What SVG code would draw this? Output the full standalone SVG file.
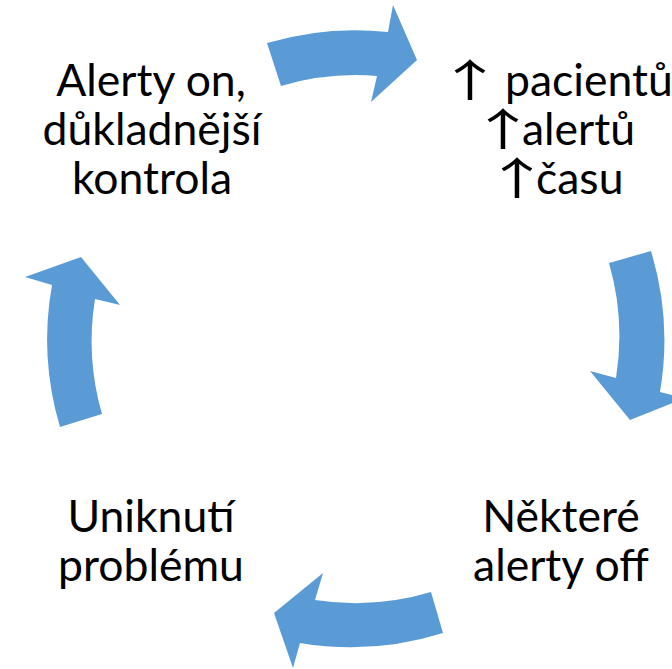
<svg xmlns="http://www.w3.org/2000/svg" width="672" height="669" viewBox="0 0 672 669">
<style>
.arrow{fill:#5B9BD5;}
.lbl{font-family:Lato,"Liberation Sans",sans-serif;font-size:44.5px;fill:#000;text-anchor:middle;}
.word{font-family:Lato,"Liberation Sans",sans-serif;font-size:44.5px;fill:#000;text-anchor:start;}
.sym{font-family:"Noto Sans CJK JP",sans-serif;font-size:44px;fill:#000;text-anchor:middle;}
</style>
<rect width="672" height="669" fill="#fff"/>
<g id="connectors">
<path class="arrow" d="M267,43 A307,307 0 0 1 388,32 L393,5 L417,60 L371,102 L377,76 A263,263 0 0 0 281,86 Z"/>
<path class="arrow" d="M651,251 A307,307 0 0 1 660,392 L685,398 L630,420 L590,371 L616,378 A263,263 0 0 0 609,263 Z"/>
<path class="arrow" d="M443,633 A307,307 0 0 1 300,643 L293,668 L274,613 L323,573 L315,600 A263,263 0 0 0 431,592 Z"/>
<path class="arrow" d="M60,427 A307,307 0 0 1 52,285 L25,277 L81,257 L120,305 L95,299 A263,263 0 0 0 102,414 Z"/>
</g>
<g id="node-alerty-on">
<text class="lbl" x="151" y="96">Alerty on,</text>
<text class="lbl" x="152" y="145">důkladnější</text>
<text class="lbl" x="152" y="194">kontrola</text>
</g>
<g id="node-increase">
<text class="sym" transform="translate(470,97) scale(1.5,1)">↑</text>
<text class="word" x="505" y="96">pacientů</text>
<text class="sym" transform="translate(503,146) scale(1.5,1)">↑</text>
<text class="word" x="522" y="145">alertů</text>
<text class="sym" transform="translate(517,195) scale(1.5,1)">↑</text>
<text class="word" x="536" y="194">času</text>
</g>
<g id="node-nektere">
<text class="lbl" x="561" y="532">Některé</text>
<text class="lbl" x="561" y="581">alerty off</text>
</g>
<g id="node-uniknuti">
<text class="lbl" x="151" y="532">Uniknutí</text>
<text class="lbl" x="151" y="581">problému</text>
</g>
</svg>
